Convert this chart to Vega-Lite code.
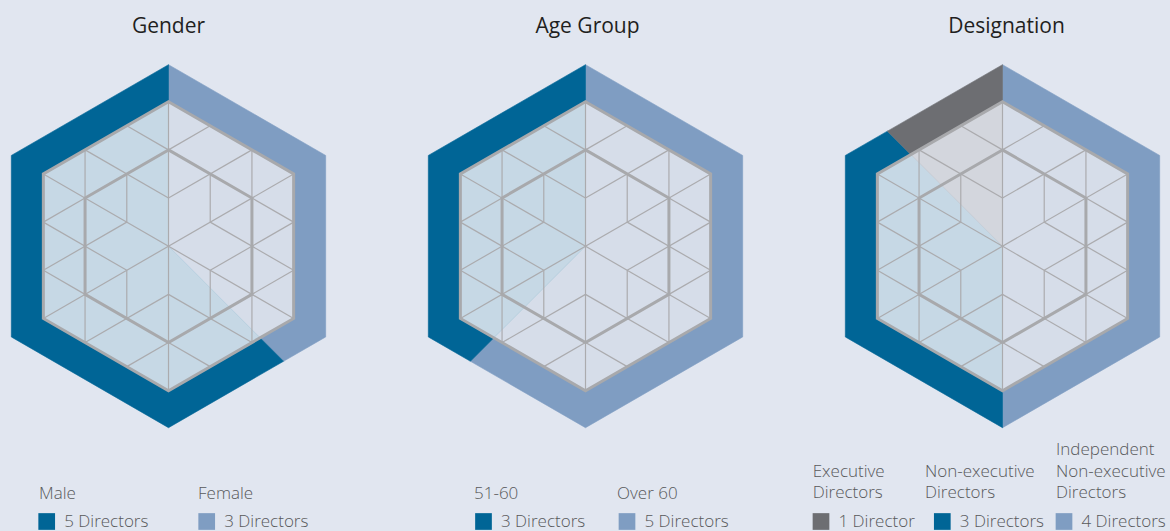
{
  "$schema": "https://vega.github.io/schema/vega-lite/v6.json",
  "background": "#e1e6f0",
  "padding": 0,
  "spacing": 81,
  "bounds": "flush",
  "config": {"view": {"stroke": null}, "font": "Open Sans"},
  "datasets": {
    "sectors": [
      {"c":"Gender","s":"Female","r":"o","i":0,"x":0,"y":0},
      {"c":"Gender","s":"Female","r":"o","i":1,"x":0,"y":181.5},
      {"c":"Gender","s":"Female","r":"o","i":2,"x":157.18,"y":90.75},
      {"c":"Gender","s":"Female","r":"o","i":3,"x":157.18,"y":-90.75},
      {"c":"Gender","s":"Female","r":"o","i":4,"x":115.07,"y":-115.07},
      {"c":"Gender","s":"Male","r":"o","i":0,"x":0,"y":0},
      {"c":"Gender","s":"Male","r":"o","i":1,"x":115.07,"y":-115.07},
      {"c":"Gender","s":"Male","r":"o","i":2,"x":0,"y":-181.5},
      {"c":"Gender","s":"Male","r":"o","i":3,"x":-157.18,"y":-90.75},
      {"c":"Gender","s":"Male","r":"o","i":4,"x":-157.18,"y":90.75},
      {"c":"Gender","s":"Male","r":"o","i":5,"x":0,"y":181.5},
      {"c":"Gender","s":"Female","r":"n","i":0,"x":0,"y":0},
      {"c":"Gender","s":"Female","r":"n","i":1,"x":0,"y":144.5},
      {"c":"Gender","s":"Female","r":"n","i":2,"x":125.14,"y":72.25},
      {"c":"Gender","s":"Female","r":"n","i":3,"x":125.14,"y":-72.25},
      {"c":"Gender","s":"Female","r":"n","i":4,"x":91.61,"y":-91.61},
      {"c":"Gender","s":"Male","r":"n","i":0,"x":0,"y":0},
      {"c":"Gender","s":"Male","r":"n","i":1,"x":91.61,"y":-91.61},
      {"c":"Gender","s":"Male","r":"n","i":2,"x":0,"y":-144.5},
      {"c":"Gender","s":"Male","r":"n","i":3,"x":-125.14,"y":-72.25},
      {"c":"Gender","s":"Male","r":"n","i":4,"x":-125.14,"y":72.25},
      {"c":"Gender","s":"Male","r":"n","i":5,"x":0,"y":144.5},

      {"c":"Age Group","s":"Over 60","r":"o","i":0,"x":0,"y":0},
      {"c":"Age Group","s":"Over 60","r":"o","i":1,"x":0,"y":181.5},
      {"c":"Age Group","s":"Over 60","r":"o","i":2,"x":157.18,"y":90.75},
      {"c":"Age Group","s":"Over 60","r":"o","i":3,"x":157.18,"y":-90.75},
      {"c":"Age Group","s":"Over 60","r":"o","i":4,"x":0,"y":-181.5},
      {"c":"Age Group","s":"Over 60","r":"o","i":5,"x":-115.07,"y":-115.07},
      {"c":"Age Group","s":"51-60","r":"o","i":0,"x":0,"y":0},
      {"c":"Age Group","s":"51-60","r":"o","i":1,"x":-115.07,"y":-115.07},
      {"c":"Age Group","s":"51-60","r":"o","i":2,"x":-157.18,"y":-90.75},
      {"c":"Age Group","s":"51-60","r":"o","i":3,"x":-157.18,"y":90.75},
      {"c":"Age Group","s":"51-60","r":"o","i":4,"x":0,"y":181.5},
      {"c":"Age Group","s":"Over 60","r":"n","i":0,"x":0,"y":0},
      {"c":"Age Group","s":"Over 60","r":"n","i":1,"x":0,"y":144.5},
      {"c":"Age Group","s":"Over 60","r":"n","i":2,"x":125.14,"y":72.25},
      {"c":"Age Group","s":"Over 60","r":"n","i":3,"x":125.14,"y":-72.25},
      {"c":"Age Group","s":"Over 60","r":"n","i":4,"x":0,"y":-144.5},
      {"c":"Age Group","s":"Over 60","r":"n","i":5,"x":-91.61,"y":-91.61},
      {"c":"Age Group","s":"51-60","r":"n","i":0,"x":0,"y":0},
      {"c":"Age Group","s":"51-60","r":"n","i":1,"x":-91.61,"y":-91.61},
      {"c":"Age Group","s":"51-60","r":"n","i":2,"x":-125.14,"y":-72.25},
      {"c":"Age Group","s":"51-60","r":"n","i":3,"x":-125.14,"y":72.25},
      {"c":"Age Group","s":"51-60","r":"n","i":4,"x":0,"y":144.5},

      {"c":"Designation","s":"Independent","r":"o","i":0,"x":0,"y":0},
      {"c":"Designation","s":"Independent","r":"o","i":1,"x":0,"y":181.5},
      {"c":"Designation","s":"Independent","r":"o","i":2,"x":157.18,"y":90.75},
      {"c":"Designation","s":"Independent","r":"o","i":3,"x":157.18,"y":-90.75},
      {"c":"Designation","s":"Independent","r":"o","i":4,"x":0,"y":-181.5},
      {"c":"Designation","s":"Non-executive","r":"o","i":0,"x":0,"y":0},
      {"c":"Designation","s":"Non-executive","r":"o","i":1,"x":0,"y":-181.5},
      {"c":"Designation","s":"Non-executive","r":"o","i":2,"x":-157.18,"y":-90.75},
      {"c":"Designation","s":"Non-executive","r":"o","i":3,"x":-157.18,"y":90.75},
      {"c":"Designation","s":"Non-executive","r":"o","i":4,"x":-115.07,"y":115.07},
      {"c":"Designation","s":"Executive","r":"o","i":0,"x":0,"y":0},
      {"c":"Designation","s":"Executive","r":"o","i":1,"x":-115.07,"y":115.07},
      {"c":"Designation","s":"Executive","r":"o","i":2,"x":0,"y":181.5},
      {"c":"Designation","s":"Independent","r":"n","i":0,"x":0,"y":0},
      {"c":"Designation","s":"Independent","r":"n","i":1,"x":0,"y":144.5},
      {"c":"Designation","s":"Independent","r":"n","i":2,"x":125.14,"y":72.25},
      {"c":"Designation","s":"Independent","r":"n","i":3,"x":125.14,"y":-72.25},
      {"c":"Designation","s":"Independent","r":"n","i":4,"x":0,"y":-144.5},
      {"c":"Designation","s":"Non-executive","r":"n","i":0,"x":0,"y":0},
      {"c":"Designation","s":"Non-executive","r":"n","i":1,"x":0,"y":-144.5},
      {"c":"Designation","s":"Non-executive","r":"n","i":2,"x":-125.14,"y":-72.25},
      {"c":"Designation","s":"Non-executive","r":"n","i":3,"x":-125.14,"y":72.25},
      {"c":"Designation","s":"Non-executive","r":"n","i":4,"x":-91.61,"y":91.61},
      {"c":"Designation","s":"Executive","r":"n","i":0,"x":0,"y":0},
      {"c":"Designation","s":"Executive","r":"n","i":1,"x":-91.61,"y":91.61},
      {"c":"Designation","s":"Executive","r":"n","i":2,"x":0,"y":144.5}
    ],
    "grid": [
      {"x":0,"y":144.5,"x2":0,"y2":-144.5},
      {"x":-125.16,"y":72.25,"x2":125.16,"y2":-72.25},
      {"x":-125.16,"y":-72.25,"x2":125.16,"y2":72.25},
      {"x":-83.44,"y":96.33,"x2":-83.44,"y2":48.17},
      {"x":83.44,"y":96.33,"x2":83.44,"y2":48.17},
      {"x":-83.44,"y":-96.33,"x2":-83.44,"y2":-48.17},
      {"x":83.44,"y":-96.33,"x2":83.44,"y2":-48.17},
      {"x":-83.44,"y":96.33,"x2":0,"y2":48.17},
      {"x":83.44,"y":96.33,"x2":0,"y2":48.17},
      {"x":-83.44,"y":-96.33,"x2":0,"y2":-48.17},
      {"x":83.44,"y":-96.33,"x2":0,"y2":-48.17},
      {"x":-41.72,"y":120.42,"x2":0,"y2":96.33},
      {"x":41.72,"y":120.42,"x2":0,"y2":96.33},
      {"x":-41.72,"y":-120.42,"x2":0,"y2":-96.33},
      {"x":41.72,"y":-120.42,"x2":0,"y2":-96.33},
      {"x":-41.72,"y":72.25,"x2":-41.72,"y2":24.08},
      {"x":41.72,"y":72.25,"x2":41.72,"y2":24.08},
      {"x":-41.72,"y":-24.08,"x2":-41.72,"y2":-72.25},
      {"x":41.72,"y":-24.08,"x2":41.72,"y2":-72.25},
      {"x":-125.16,"y":24.08,"x2":-83.44,"y2":48.17},
      {"x":125.16,"y":24.08,"x2":83.44,"y2":48.17},
      {"x":-125.16,"y":-24.08,"x2":-83.44,"y2":-48.17},
      {"x":125.16,"y":-24.08,"x2":83.44,"y2":-48.17},
      {"x":-125.16,"y":24.08,"x2":-41.72,"y2":-24.08},
      {"x":-125.16,"y":-24.08,"x2":-41.72,"y2":24.08},
      {"x":125.16,"y":24.08,"x2":41.72,"y2":-24.08},
      {"x":125.16,"y":-24.08,"x2":41.72,"y2":24.08}
    ],
    "hex": [
      {"h":"outer","i":0,"x":0,"y":144.5},
      {"h":"outer","i":1,"x":125.14,"y":72.25},
      {"h":"outer","i":2,"x":125.14,"y":-72.25},
      {"h":"outer","i":3,"x":0,"y":-144.5},
      {"h":"outer","i":4,"x":-125.14,"y":-72.25},
      {"h":"outer","i":5,"x":-125.14,"y":72.25},
      {"h":"inner","i":0,"x":0,"y":96.33},
      {"h":"inner","i":1,"x":83.43,"y":48.17},
      {"h":"inner","i":2,"x":83.43,"y":-48.17},
      {"h":"inner","i":3,"x":0,"y":-96.33},
      {"h":"inner","i":4,"x":-83.43,"y":-48.17},
      {"h":"inner","i":5,"x":-83.43,"y":48.17}
    ],
    "titles": [
      {"c":"Gender","t":"Gender"},
      {"c":"Age Group","t":"Age Group"},
      {"c":"Designation","t":"Designation"}
    ],
    "legend": [
      {"c":"Gender","s":"Male","label":"Male","lines":1,"n":"5 Directors","lx":-129.5,"sx":-121.8},
      {"c":"Gender","s":"Female","label":"Female","lines":1,"n":"3 Directors","lx":29.5,"sx":38.2},
      {"c":"Age Group","s":"51-60","label":"51-60","lines":1,"n":"3 Directors","lx":-111.5,"sx":-102},
      {"c":"Age Group","s":"Over 60","label":"Over 60","lines":1,"n":"5 Directors","lx":31.5,"sx":41.5},
      {"c":"Designation","s":"Executive","label":"Executive\nDirectors","lines":2,"n":"1 Director","lx":-189.8,"sx":-181.5},
      {"c":"Designation","s":"Non-executive","label":"Non-executive\nDirectors","lines":2,"n":"3 Directors","lx":-77.5,"sx":-60.2},
      {"c":"Designation","s":"Independent","label":"Independent\nNon-executive\nDirectors","lines":3,"n":"4 Directors","lx":53.5,"sx":61.5}
    ]
  },
  "hconcat": [
    {
      "width": 336, "height": 531,
      "resolve": {"scale": {"fill": "independent", "stroke": "independent"}},
      "layer": [
        {"data": {"name": "sectors"}, "transform": [{"filter": "datum.c == 'Gender' && datum.r == 'o'"}],
         "mark": {"type": "line", "interpolate": "linear-closed", "strokeWidth": 0.6},
         "encoding": {
           "x": {"field": "x", "type": "quantitative", "scale": {"domain": [-168.5, 167.5], "nice": false, "zero": false}, "axis": null},
           "y": {"field": "y", "type": "quantitative", "scale": {"domain": [-284.8, 246.2], "nice": false, "zero": false}, "axis": null},
           "order": {"field": "i", "type": "quantitative"},
           "detail": {"field": "s"},
           "fill": {"field": "s", "type": "nominal", "legend": null, "scale": {"domain": ["Male","Female","51-60","Over 60","Executive","Non-executive","Independent"], "range": ["#006596","#7f9dc2","#006596","#7f9dc2","#6d6e72","#006596","#7f9dc2"]}},
           "stroke": {"field": "s", "type": "nominal", "legend": null, "scale": {"domain": ["Male","Female","51-60","Over 60","Executive","Non-executive","Independent"], "range": ["#006596","#7f9dc2","#006596","#7f9dc2","#6d6e72","#006596","#7f9dc2"]}}
         }},
        {"data": {"name": "sectors"}, "transform": [{"filter": "datum.c == 'Gender' && datum.r == 'n'"}],
         "mark": {"type": "line", "interpolate": "linear-closed", "strokeWidth": 0.6},
         "encoding": {
           "x": {"field": "x", "type": "quantitative"},
           "y": {"field": "y", "type": "quantitative"},
           "order": {"field": "i", "type": "quantitative"},
           "detail": {"field": "s"},
           "fill": {"field": "s", "type": "nominal", "legend": null, "scale": {"domain": ["Male","Female","51-60","Over 60","Executive","Non-executive","Independent"], "range": ["#c6d8e5","#d6dde9","#c6d8e5","#d6dde9","#d3d6dd","#c6d8e5","#d6dde9"]}},
           "stroke": {"field": "s", "type": "nominal", "legend": null, "scale": {"domain": ["Male","Female","51-60","Over 60","Executive","Non-executive","Independent"], "range": ["#c6d8e5","#d6dde9","#c6d8e5","#d6dde9","#d3d6dd","#c6d8e5","#d6dde9"]}}
         }},
        {"data": {"name": "grid"},
         "mark": {"type": "rule", "stroke": "#ababae", "strokeWidth": 1.2},
         "encoding": {"x": {"field": "x", "type": "quantitative"}, "y": {"field": "y", "type": "quantitative"}, "x2": {"field": "x2"}, "y2": {"field": "y2"}}},
        {"data": {"name": "hex"},
         "mark": {"type": "line", "interpolate": "linear-closed", "stroke": "#a8a9ac", "strokeWidth": 3, "strokeJoin": "miter"},
         "encoding": {"x": {"field": "x", "type": "quantitative"}, "y": {"field": "y", "type": "quantitative"}, "order": {"field": "i", "type": "quantitative"}, "detail": {"field": "h"}}},
        {"data": {"name": "titles"}, "transform": [{"filter": "datum.c == 'Gender'"}],
         "mark": {"type": "text", "align": "center", "baseline": "alphabetic", "fontSize": 21, "color": "#1f1f21"},
         "encoding": {"x": {"datum": 0, "type": "quantitative"}, "y": {"datum": 212.9, "type": "quantitative"}, "text": {"field": "t"}}},
        {"data": {"name": "legend"}, "transform": [{"filter": "datum.c == 'Gender'"}],
         "mark": {"type": "text", "align": "left", "baseline": "alphabetic", "lineBreak": "\n", "lineHeight": 21.7, "fontSize": 17, "fontWeight": 300, "color": "#58595b"},
         "encoding": {"x": {"field": "lx", "type": "quantitative"}, "y": {"datum": -252.8, "type": "quantitative"}, "text": {"field": "label"}}},
        {"data": {"name": "legend"}, "transform": [{"filter": "datum.c == 'Gender'"}],
         "mark": {"type": "square", "size": 279, "filled": true, "opacity": 1},
         "encoding": {"x": {"field": "sx", "type": "quantitative"}, "y": {"datum": -275.3, "type": "quantitative"},
           "fill": {"field": "s", "type": "nominal", "legend": null, "scale": {"domain": ["Male","Female","51-60","Over 60","Executive","Non-executive","Independent"], "range": ["#006596","#7f9dc2","#006596","#7f9dc2","#6d6e72","#006596","#7f9dc2"]}}}},
        {"data": {"name": "legend"}, "transform": [{"filter": "datum.c == 'Gender'"}],
         "mark": {"type": "text", "align": "left", "baseline": "alphabetic", "dx": 17.5, "fontSize": 17, "fontWeight": 300, "color": "#58595b"},
         "encoding": {"x": {"field": "sx", "type": "quantitative"}, "y": {"datum": -280.9, "type": "quantitative"}, "text": {"field": "n"}}}
      ]
    },
    {
      "width": 336, "height": 531,
      "resolve": {"scale": {"fill": "independent", "stroke": "independent"}},
      "layer": [
        {"data": {"name": "sectors"}, "transform": [{"filter": "datum.c == 'Age Group' && datum.r == 'o'"}],
         "mark": {"type": "line", "interpolate": "linear-closed", "strokeWidth": 0.6},
         "encoding": {
           "x": {"field": "x", "type": "quantitative", "scale": {"domain": [-168.5, 167.5], "nice": false, "zero": false}, "axis": null},
           "y": {"field": "y", "type": "quantitative", "scale": {"domain": [-284.8, 246.2], "nice": false, "zero": false}, "axis": null},
           "order": {"field": "i", "type": "quantitative"},
           "detail": {"field": "s"},
           "fill": {"field": "s", "type": "nominal", "legend": null, "scale": {"domain": ["Male","Female","51-60","Over 60","Executive","Non-executive","Independent"], "range": ["#006596","#7f9dc2","#006596","#7f9dc2","#6d6e72","#006596","#7f9dc2"]}},
           "stroke": {"field": "s", "type": "nominal", "legend": null, "scale": {"domain": ["Male","Female","51-60","Over 60","Executive","Non-executive","Independent"], "range": ["#006596","#7f9dc2","#006596","#7f9dc2","#6d6e72","#006596","#7f9dc2"]}}
         }},
        {"data": {"name": "sectors"}, "transform": [{"filter": "datum.c == 'Age Group' && datum.r == 'n'"}],
         "mark": {"type": "line", "interpolate": "linear-closed", "strokeWidth": 0.6},
         "encoding": {
           "x": {"field": "x", "type": "quantitative"},
           "y": {"field": "y", "type": "quantitative"},
           "order": {"field": "i", "type": "quantitative"},
           "detail": {"field": "s"},
           "fill": {"field": "s", "type": "nominal", "legend": null, "scale": {"domain": ["Male","Female","51-60","Over 60","Executive","Non-executive","Independent"], "range": ["#c6d8e5","#d6dde9","#c6d8e5","#d6dde9","#d3d6dd","#c6d8e5","#d6dde9"]}},
           "stroke": {"field": "s", "type": "nominal", "legend": null, "scale": {"domain": ["Male","Female","51-60","Over 60","Executive","Non-executive","Independent"], "range": ["#c6d8e5","#d6dde9","#c6d8e5","#d6dde9","#d3d6dd","#c6d8e5","#d6dde9"]}}
         }},
        {"data": {"name": "grid"},
         "mark": {"type": "rule", "stroke": "#ababae", "strokeWidth": 1.2},
         "encoding": {"x": {"field": "x", "type": "quantitative"}, "y": {"field": "y", "type": "quantitative"}, "x2": {"field": "x2"}, "y2": {"field": "y2"}}},
        {"data": {"name": "hex"},
         "mark": {"type": "line", "interpolate": "linear-closed", "stroke": "#a8a9ac", "strokeWidth": 3, "strokeJoin": "miter"},
         "encoding": {"x": {"field": "x", "type": "quantitative"}, "y": {"field": "y", "type": "quantitative"}, "order": {"field": "i", "type": "quantitative"}, "detail": {"field": "h"}}},
        {"data": {"name": "titles"}, "transform": [{"filter": "datum.c == 'Age Group'"}],
         "mark": {"type": "text", "align": "center", "baseline": "alphabetic", "fontSize": 21, "color": "#1f1f21"},
         "encoding": {"x": {"datum": 2, "type": "quantitative"}, "y": {"datum": 212.9, "type": "quantitative"}, "text": {"field": "t"}}},
        {"data": {"name": "legend"}, "transform": [{"filter": "datum.c == 'Age Group'"}],
         "mark": {"type": "text", "align": "left", "baseline": "alphabetic", "lineBreak": "\n", "lineHeight": 21.7, "fontSize": 17, "fontWeight": 300, "color": "#58595b"},
         "encoding": {"x": {"field": "lx", "type": "quantitative"}, "y": {"datum": -252.8, "type": "quantitative"}, "text": {"field": "label"}}},
        {"data": {"name": "legend"}, "transform": [{"filter": "datum.c == 'Age Group'"}],
         "mark": {"type": "square", "size": 279, "filled": true, "opacity": 1},
         "encoding": {"x": {"field": "sx", "type": "quantitative"}, "y": {"datum": -275.3, "type": "quantitative"},
           "fill": {"field": "s", "type": "nominal", "legend": null, "scale": {"domain": ["Male","Female","51-60","Over 60","Executive","Non-executive","Independent"], "range": ["#006596","#7f9dc2","#006596","#7f9dc2","#6d6e72","#006596","#7f9dc2"]}}}},
        {"data": {"name": "legend"}, "transform": [{"filter": "datum.c == 'Age Group'"}],
         "mark": {"type": "text", "align": "left", "baseline": "alphabetic", "dx": 17.5, "fontSize": 17, "fontWeight": 300, "color": "#58595b"},
         "encoding": {"x": {"field": "sx", "type": "quantitative"}, "y": {"datum": -280.9, "type": "quantitative"}, "text": {"field": "n"}}}
      ]
    },
    {
      "width": 336, "height": 531,
      "resolve": {"scale": {"fill": "independent", "stroke": "independent"}},
      "layer": [
        {"data": {"name": "sectors"}, "transform": [{"filter": "datum.c == 'Designation' && datum.r == 'o'"}],
         "mark": {"type": "line", "interpolate": "linear-closed", "strokeWidth": 0.6},
         "encoding": {
           "x": {"field": "x", "type": "quantitative", "scale": {"domain": [-168.5, 167.5], "nice": false, "zero": false}, "axis": null},
           "y": {"field": "y", "type": "quantitative", "scale": {"domain": [-284.8, 246.2], "nice": false, "zero": false}, "axis": null},
           "order": {"field": "i", "type": "quantitative"},
           "detail": {"field": "s"},
           "fill": {"field": "s", "type": "nominal", "legend": null, "scale": {"domain": ["Male","Female","51-60","Over 60","Executive","Non-executive","Independent"], "range": ["#006596","#7f9dc2","#006596","#7f9dc2","#6d6e72","#006596","#7f9dc2"]}},
           "stroke": {"field": "s", "type": "nominal", "legend": null, "scale": {"domain": ["Male","Female","51-60","Over 60","Executive","Non-executive","Independent"], "range": ["#006596","#7f9dc2","#006596","#7f9dc2","#6d6e72","#006596","#7f9dc2"]}}
         }},
        {"data": {"name": "sectors"}, "transform": [{"filter": "datum.c == 'Designation' && datum.r == 'n'"}],
         "mark": {"type": "line", "interpolate": "linear-closed", "strokeWidth": 0.6},
         "encoding": {
           "x": {"field": "x", "type": "quantitative"},
           "y": {"field": "y", "type": "quantitative"},
           "order": {"field": "i", "type": "quantitative"},
           "detail": {"field": "s"},
           "fill": {"field": "s", "type": "nominal", "legend": null, "scale": {"domain": ["Male","Female","51-60","Over 60","Executive","Non-executive","Independent"], "range": ["#c6d8e5","#d6dde9","#c6d8e5","#d6dde9","#d3d6dd","#c6d8e5","#d6dde9"]}},
           "stroke": {"field": "s", "type": "nominal", "legend": null, "scale": {"domain": ["Male","Female","51-60","Over 60","Executive","Non-executive","Independent"], "range": ["#c6d8e5","#d6dde9","#c6d8e5","#d6dde9","#d3d6dd","#c6d8e5","#d6dde9"]}}
         }},
        {"data": {"name": "grid"},
         "mark": {"type": "rule", "stroke": "#ababae", "strokeWidth": 1.2},
         "encoding": {"x": {"field": "x", "type": "quantitative"}, "y": {"field": "y", "type": "quantitative"}, "x2": {"field": "x2"}, "y2": {"field": "y2"}}},
        {"data": {"name": "hex"},
         "mark": {"type": "line", "interpolate": "linear-closed", "stroke": "#a8a9ac", "strokeWidth": 3, "strokeJoin": "miter"},
         "encoding": {"x": {"field": "x", "type": "quantitative"}, "y": {"field": "y", "type": "quantitative"}, "order": {"field": "i", "type": "quantitative"}, "detail": {"field": "h"}}},
        {"data": {"name": "titles"}, "transform": [{"filter": "datum.c == 'Designation'"}],
         "mark": {"type": "text", "align": "center", "baseline": "alphabetic", "fontSize": 21, "color": "#1f1f21"},
         "encoding": {"x": {"datum": 4, "type": "quantitative"}, "y": {"datum": 212.9, "type": "quantitative"}, "text": {"field": "t"}}},
        {"data": {"name": "legend"}, "transform": [{"filter": "datum.c == 'Designation' && datum.lines == 2"}],
         "mark": {"type": "text", "align": "left", "baseline": "alphabetic", "lineBreak": "\n", "lineHeight": 21.7, "fontSize": 17, "fontWeight": 300, "color": "#58595b"},
         "encoding": {"x": {"field": "lx", "type": "quantitative"}, "y": {"datum": -230.6, "type": "quantitative"}, "text": {"field": "label"}}},
        {"data": {"name": "legend"}, "transform": [{"filter": "datum.c == 'Designation' && datum.lines == 3"}],
         "mark": {"type": "text", "align": "left", "baseline": "alphabetic", "lineBreak": "\n", "lineHeight": 21.7, "fontSize": 17, "fontWeight": 300, "color": "#58595b"},
         "encoding": {"x": {"field": "lx", "type": "quantitative"}, "y": {"datum": -208.9, "type": "quantitative"}, "text": {"field": "label"}}},
        {"data": {"name": "legend"}, "transform": [{"filter": "datum.c == 'Designation'"}],
         "mark": {"type": "square", "size": 279, "filled": true, "opacity": 1},
         "encoding": {"x": {"field": "sx", "type": "quantitative"}, "y": {"datum": -275.3, "type": "quantitative"},
           "fill": {"field": "s", "type": "nominal", "legend": null, "scale": {"domain": ["Male","Female","51-60","Over 60","Executive","Non-executive","Independent"], "range": ["#006596","#7f9dc2","#006596","#7f9dc2","#6d6e72","#006596","#7f9dc2"]}}}},
        {"data": {"name": "legend"}, "transform": [{"filter": "datum.c == 'Designation'"}],
         "mark": {"type": "text", "align": "left", "baseline": "alphabetic", "dx": 17.5, "fontSize": 17, "fontWeight": 300, "color": "#58595b"},
         "encoding": {"x": {"field": "sx", "type": "quantitative"}, "y": {"datum": -280.9, "type": "quantitative"}, "text": {"field": "n"}}}
      ]
    }
  ]
}
